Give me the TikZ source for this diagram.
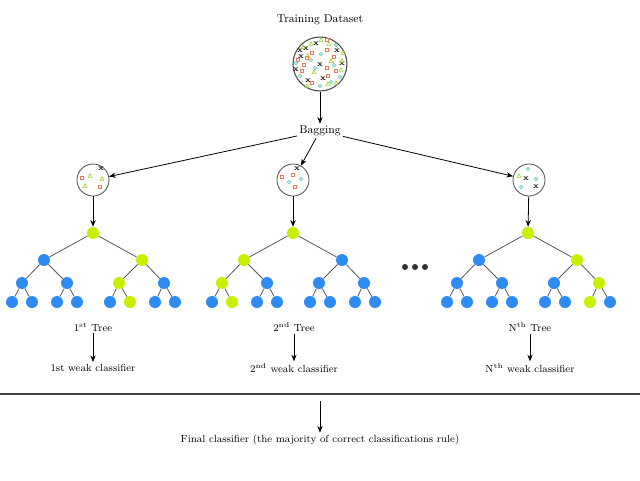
\documentclass[tikz,border=0pt]{standalone}
\usetikzlibrary{arrows.meta}
\definecolor{tblue}{RGB}{46,139,241}
\definecolor{tgreen}{RGB}{198,240,0}
\definecolor{sqc}{RGB}{240,120,90}
\definecolor{cic}{RGB}{100,200,180}
\definecolor{trc}{RGB}{150,215,40}
\newcommand\symsq[2]{\draw[sqc,line width=0.5pt] (#1,#2) ++(-1.6,-1.6) rectangle ++(3.2,3.2);}
\newcommand\symci[2]{\draw[cic,line width=0.5pt] (#1,#2) circle (1.7);}
\newcommand\symtr[2]{\draw[trc,line width=0.5pt] (#1,#2) ++(0,-2.2) -- ++(2,3.6) -- ++(-4,0) -- cycle;}
\newcommand\symx[2]{\node[inner sep=0,font=\fontsize{6}{6}\selectfont\bfseries] at (#1,#2) {x};}
\begin{document}
\begin{tikzpicture}[x=0.75pt,y=-0.75pt,font=\fontsize{7.7}{9}\selectfont,
  arr/.style={-{Stealth[length=5pt,width=4pt]},line width=0.6pt},
  bn/.style={circle,fill=tblue,minimum size=9pt,inner sep=0},
  gn/.style={circle,fill=tgreen,minimum size=9pt,inner sep=0},
  tedge/.style={draw=black!65,line width=0.6pt},
  bagc/.style={circle,draw=black!70,line width=0.6pt,inner sep=0},
  lbl/.style={inner sep=1.5pt},
  big/.style={inner sep=1.5pt,font=\fontsize{8.5}{10}\selectfont}]
\useasboundingbox (0,0) rectangle (640,480);

% top
\node[big] (title) at (320,20) {Training Dataset};
\node[bagc,minimum size=40.5pt,line width=0.8pt] (D) at (320,64) {};
\begin{scope}[shift={(320,64)}]
\foreach \a/\b in {-4/-20,-20/-13,-14/-15,-19/-7,17/-13,-24/6,0/1,22/0,-12/17,3/15} {\symx{\a}{\b}}
\foreach \a/\b in {7/-24,-8/-11,-13/-6,-22/-4,7/-14,14/-7,-16/1,-18/7,7/4,16/7,-8/19,8/12} {\symsq{\a}{\b}}
\foreach \a/\b in {16/-19,1/-10,-9/-4,-5/4,14/1,20/13,-20/12,11/18,0/22,-24/-1} {\symci{\a}{\b}}
\foreach \a/\b in {1/-24,9/-20,-9/-20,-17/-17,23/-11,22/-3,-12/-8,11/-3,-6/8,21/6,16/19,-13/22,8/20} {\symtr{\a}{\b}}
\end{scope}
\node[big] (bag) at (320,131) {Bagging};
\draw[arr] (D) -- (bag);

% bootstrap samples
\node[bagc,minimum size=24pt] (s1) at (93,180) {};
\node[bagc,minimum size=24pt] (s2) at (293,180) {};
\node[bagc,minimum size=24pt] (s3) at (529,180) {};
\begin{scope}[shift={(93,180)}]
\symx{8}{-11}\symsq{-11}{-2}\symsq{7}{7}\symtr{-3}{-4}\symtr{9}{-1}\symtr{-8}{6}
\end{scope}
\begin{scope}[shift={(293,180)}]
\symx{4}{-11}\symsq{-11}{-3}\symsq{0}{-5}\symsq{2}{7}\symci{-4}{2}\symci{8}{-1}
\end{scope}
\begin{scope}[shift={(529,180)}]
\symtr{-10}{-4}\symci{-1}{-11}\symci{7}{-1}\symci{-8}{7}\symx{-3}{-1}\symx{7}{7}
\end{scope}
\draw[arr] (bag) -- (s1);
\draw[arr] (bag) -- (s2);
\draw[arr] (bag) -- (s3);

% trees
\foreach \n/\dx/\y/\s in {r/0/233/gn,a/-49/260/bn,b/49/260/gn,c/-71/283/bn,d/-26/283/bn,e/26/283/gn,f/71/283/bn,
  g/-81/302/bn,h/-61/302/bn,i/-36/302/bn,j/-16/302/bn,k/17/302/bn,l/37/302/gn,m/62/302/bn,n/82/302/bn}
  {\node[\s] (t1\n) at (93+\dx,\y) {};}
\foreach \n/\dx/\y/\s in {r/0/233/gn,a/-49/260/gn,b/49/260/bn,c/-71/283/gn,d/-26/283/bn,e/26/283/bn,f/71/283/bn,
  g/-81/302/bn,h/-61/302/gn,i/-36/302/bn,j/-16/302/bn,k/17/302/bn,l/37/302/bn,m/62/302/bn,n/82/302/bn}
  {\node[\s] (t2\n) at (293+\dx,\y) {};}
\foreach \n/\dx/\y/\s in {r/0/233/gn,a/-49/260/bn,b/49/260/gn,c/-71/283/bn,d/-26/283/bn,e/26/283/bn,f/71/283/gn,
  g/-81/302/bn,h/-61/302/bn,i/-36/302/bn,j/-16/302/bn,k/17/302/bn,l/37/302/bn,m/62/302/gn,n/82/302/bn}
  {\node[\s] (t3\n) at (528+\dx,\y) {};}
\foreach \t in {1,2,3}{
  \foreach \p/\c in {r/a,r/b,a/c,a/d,b/e,b/f,c/g,c/h,d/i,d/j,e/k,e/l,f/m,f/n}
    {\draw[tedge] (t\t\p) -- (t\t\c);}
}
\draw[arr] (s1) -- (t1r);
\draw[arr] (s2) -- (t2r);
\draw[arr] (s3) -- (t3r);

% ellipsis
\foreach \i/\xx in {1/405,2/415,3/425} {\node[circle,fill=black!80,minimum size=4.5pt,inner sep=0] (dot\i) at (\xx,267) {};}

% labels
\node[lbl] (l1) at (93,327) {1\textsuperscript{st} Tree};
\node[lbl] (l2) at (294,327) {2\textsuperscript{nd} Tree};
\node[lbl] (l3) at (530,327) {N\textsuperscript{th} Tree};
\node[lbl] (w1) at (93,368) {1st weak classifier};
\node[lbl] (w2) at (294,368) {2\textsuperscript{nd} weak classifier};
\node[lbl] (w3) at (530,368) {N\textsuperscript{th} weak classifier};
\draw[arr] (l1) -- (w1);
\draw[arr] (l2) -- (w2);
\draw[arr] (l3) -- (w3);

% final
\coordinate (L) at (0,394);
\coordinate (R) at (640,394);
\draw[black!75,line width=0.8pt] (L) -- (R);
\coordinate (fa) at (320,401);
\node[lbl] (final) at (320,440) {Final classifier (the majority of correct classifications rule)};
\draw[arr] (fa) -- (final);
\end{tikzpicture}
\end{document}
